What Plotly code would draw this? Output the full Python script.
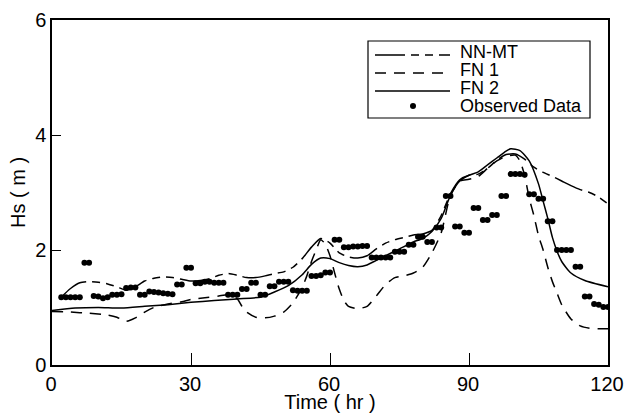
import plotly.graph_objects as go

# ---- data ----
obs_time = list(range(2, 121))
obs_hs = [1.18, 1.18, 1.18, 1.18, 1.18,
          1.78, 1.78,
          1.20, 1.19, 1.16, 1.18,
          1.22, 1.22, 1.23,
          1.34, 1.35, 1.35,
          1.22, 1.22,
          1.28, 1.27, 1.26, 1.25, 1.24, 1.23,
          1.40, 1.40,
          1.69, 1.69,
          1.42, 1.42, 1.45, 1.45, 1.43, 1.43, 1.43,
          1.22, 1.22, 1.22,
          1.32, 1.32,
          1.43, 1.43,
          1.22, 1.22,
          1.37, 1.37,
          1.45, 1.45, 1.45,
          1.30, 1.29, 1.29, 1.29,
          1.55, 1.55, 1.56,
          1.61, 1.61,
          2.18, 2.18,
          2.05, 2.05, 2.06, 2.06, 2.07, 2.07,
          1.87, 1.87, 1.87, 1.87, 1.87,
          1.97, 1.97, 1.97,
          2.09, 2.09,
          2.23, 2.23,
          2.14, 2.14,
          2.39, 2.39,
          2.94, 2.94,
          2.41, 2.41,
          2.30, 2.30,
          2.73, 2.73,
          2.52, 2.52,
          2.61, 2.61,
          2.94, 2.94,
          3.32, 3.32, 3.32, 3.31,
          2.97, 2.97,
          2.89, 2.89,
          2.50, 2.50,
          2.00, 2.00, 2.00, 2.00,
          1.71, 1.71,
          1.19, 1.19,
          1.06, 1.05,
          1.01, 1.01]

nnmt_time = [2, 4, 6, 8, 10, 12, 14, 16, 18, 20, 22, 24, 26, 28, 30, 32, 34, 36, 38, 40,
             42, 44, 46, 48, 50, 52, 54, 56, 58, 60, 62, 64, 66, 68, 70, 72, 74, 76, 78, 80,
             82, 84, 86, 88, 90, 92, 94, 96, 98, 100, 102, 104, 106, 108, 110, 112, 114, 116, 118, 120]
nnmt_hs = [1.18, 1.33, 1.43, 1.45, 1.44, 1.41, 1.36, 1.30, 1.36, 1.46, 1.51, 1.53, 1.52, 1.49, 1.46, 1.47, 1.50, 1.56, 1.59, 1.56,
           1.52, 1.52, 1.55, 1.59, 1.62, 1.70, 1.85, 2.05, 2.20, 2.12, 1.95, 1.88, 1.86, 1.90, 2.02, 2.12, 2.18, 2.22, 2.26, 2.28,
           2.34, 2.60, 2.98, 3.22, 3.30, 3.32, 3.42, 3.56, 3.66, 3.67, 3.58, 3.44, 3.35, 3.28, 3.20, 3.12, 3.05, 3.00, 2.92, 2.80]

fn1_time = [0, 4, 8, 12, 14, 16, 18, 20, 22, 25, 28, 30, 33, 36, 38, 40, 41, 42, 44, 46,
            48, 50, 52, 54, 55, 56, 57, 58, 59, 60, 61, 62, 63, 64, 66, 68, 70, 72, 74, 76,
            78, 80, 82, 84, 86, 88, 90, 92, 94, 96, 98, 100, 101, 102, 103, 104, 105, 106, 107, 108,
            109, 110, 112, 114, 116, 118, 120]
fn1_hs = [0.93, 0.92, 0.90, 0.87, 0.83, 0.76, 0.82, 0.92, 1.00, 1.06, 1.10, 1.14, 1.17, 1.20, 1.22, 1.15, 1.02, 0.92, 0.83, 0.82,
          0.85, 0.92, 1.08, 1.35, 1.55, 1.80, 2.00, 2.18, 2.10, 1.90, 1.60, 1.32, 1.12, 1.02, 0.98, 1.02, 1.20, 1.40, 1.52, 1.55,
          1.60, 1.70, 1.95, 2.30, 2.95, 3.20, 3.23, 3.28, 3.42, 3.55, 3.63, 3.65, 3.55, 3.30, 2.90, 2.60, 2.25, 2.00, 1.70, 1.45,
          1.25, 1.05, 0.80, 0.68, 0.64, 0.63, 0.63]

fn2_time = [0, 5, 10, 15, 20, 25, 30, 35, 40, 45, 48, 51, 54, 56, 58, 60, 62, 64, 66, 68,
            70, 72, 75, 78, 80, 82, 84, 86, 88, 90, 92, 94, 96, 98, 99, 101, 103, 105, 106, 107,
            108, 109, 110, 112, 115, 120]
fn2_hs = [0.95, 0.99, 1.00, 0.99, 1.02, 1.05, 1.09, 1.12, 1.15, 1.18, 1.27, 1.38, 1.57, 1.75, 1.86, 1.85, 1.78, 1.73, 1.71, 1.74,
          1.82, 1.90, 2.02, 2.14, 2.20, 2.32, 2.55, 2.95, 3.20, 3.30, 3.36, 3.48, 3.60, 3.72, 3.76, 3.73, 3.55, 3.15, 2.85, 2.55,
          2.22, 1.98, 1.80, 1.60, 1.47, 1.36]

x_ticks = [0, 30, 60, 90, 120]
y_ticks = [0, 2, 4, 6]
series_names = ["NN-MT", "FN 1", "FN 2", "Observed Data"]

FONT = "Liberation Sans, Arial, Helvetica, sans-serif"
DASH_NNMT = "30px,6px,8px,6px,8px,6px"
DASH_FN1 = "11px,8px"

W, H = 624, 413
ML, MR, MT, MB = 52, 16, 20, 48
PW, PH = W - ML - MR, H - MT - MB


def px_x(p):
    return (p - ML) / PW


def px_y(p):
    return (H - MB - p) / PH


fig = go.Figure()
fig.add_trace(go.Scatter(x=nnmt_time, y=nnmt_hs, mode="lines", name=series_names[0],
                         line=dict(color="black", width=1.5, shape="spline", smoothing=0.6,
                                   dash=DASH_NNMT)))
fig.add_trace(go.Scatter(x=fn1_time, y=fn1_hs, mode="lines", name=series_names[1],
                         line=dict(color="black", width=1.5, shape="spline", smoothing=0.6,
                                   dash=DASH_FN1)))
fig.add_trace(go.Scatter(x=fn2_time, y=fn2_hs, mode="lines", name=series_names[2],
                         line=dict(color="black", width=1.5, shape="spline", smoothing=0.6)))
fig.add_trace(go.Scatter(x=obs_time, y=obs_hs, mode="markers", name=series_names[3],
                         marker=dict(color="black", size=6)))

# ---- legend box (drawn to match the reference's compact layout) ----
shapes = [dict(type="rect", xref="paper", yref="paper",
               x0=px_x(368), x1=px_x(590), y0=px_y(118), y1=px_y(41),
               line=dict(color="black", width=1.2), fillcolor="rgba(0,0,0,0)")]
row_y = [52, 70, 88, 106]
line_dashes = [DASH_NNMT, DASH_FN1, "solid"]
for i in range(3):
    shapes.append(dict(type="line", xref="paper", yref="paper",
                       x0=px_x(375), x1=px_x(450), y0=px_y(row_y[i] + 3), y1=px_y(row_y[i] + 3),
                       line=dict(color="black", width=1.5, dash=line_dashes[i])))
shapes.append(dict(type="circle", xref="paper", yref="paper",
                   x0=px_x(410), x1=px_x(416), y0=px_y(row_y[3] + 3), y1=px_y(row_y[3] - 3),
                   line=dict(color="black", width=0), fillcolor="black"))
annotations = []
for i, name in enumerate(series_names):
    annotations.append(dict(text=name, xref="paper", yref="paper",
                            x=px_x(458), y=px_y(row_y[i]), xanchor="left", yanchor="middle",
                            showarrow=False, font=dict(size=18, family=FONT, color="black")))

fig.update_layout(
    width=W, height=H,
    margin=dict(l=ML, r=MR, t=MT, b=MB),
    paper_bgcolor="white", plot_bgcolor="white",
    font=dict(family=FONT, color="black", size=20),
    showlegend=False,
    shapes=shapes,
    annotations=annotations,
)
fig.update_xaxes(range=[0, 120], tickvals=x_ticks, ticks="inside", ticklen=12, tickwidth=1.2,
                 tickcolor="black", showline=True, linecolor="black", linewidth=1.5, mirror=True,
                 showgrid=False, zeroline=False, tickfont=dict(size=20), automargin=False,
                 ticklabeloverflow="allow", ticklabelshift=-1,
                 title=dict(text="Time ( hr )", font=dict(size=20), standoff=2))
fig.update_yaxes(range=[0, 6], tickvals=y_ticks, ticks="inside", ticklen=9, tickwidth=1.2,
                 tickcolor="black", showline=True, linecolor="black", linewidth=1.5, mirror=True,
                 showgrid=False, zeroline=False, tickfont=dict(size=20), automargin=False,
                 title=dict(text="Hs ( m )", font=dict(size=20), standoff=4))

# the page's default 8px body margin would shift the figure; remove it
fig.write_html("out.html", config={"displayModeBar": False},
               post_script="document.body.style.margin='0';")
